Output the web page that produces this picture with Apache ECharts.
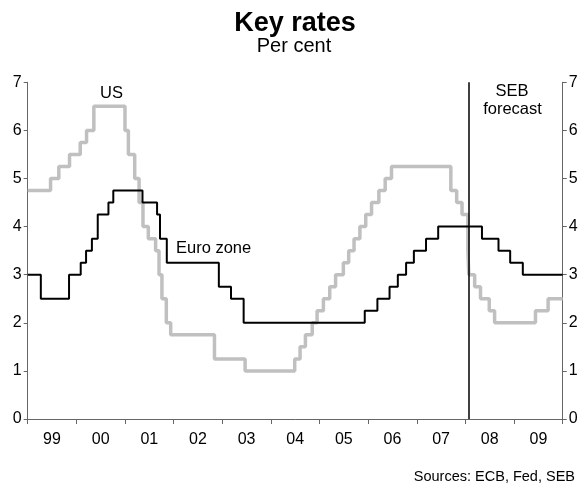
<!DOCTYPE html>
<html><head><meta charset="utf-8">
<script src="https://cdn.jsdelivr.net/npm/echarts@6/dist/echarts.min.js"></script>
<style>html,body{margin:0;padding:0;background:#fff}#c{width:583px;height:484px}</style>
</head><body><div id="c"></div>
<script>
var yearLabels = ["99","00","01","02","03","04","05","06","07","08","09"];
var euroDates = [1999.0,1999.27,1999.85,2000.09,2000.2,2000.32,2000.44,2000.66,2000.76,2001.36,2001.66,2001.72,2001.86,2002.93,2003.18,2003.44,2005.93,2006.19,2006.44,2006.61,2006.78,2006.94,2007.19,2007.44,2008.34,2008.68,2008.92,2009.18,2010.0];
var euroRates = [3.0,2.5,3.0,3.25,3.5,3.75,4.25,4.5,4.75,4.5,4.25,3.75,3.25,2.75,2.5,2.0,2.25,2.5,2.75,3.0,3.25,3.5,3.75,4.0,3.75,3.5,3.25,3.0,3.0];
var usDates = [1999.0,1999.47,1999.64,1999.86,2000.08,2000.21,2000.36,2001.0,2001.07,2001.2,2001.29,2001.37,2001.48,2001.63,2001.7,2001.76,2001.85,2001.94,2002.84,2003.47,2004.49,2004.6,2004.71,2004.85,2004.95,2005.08,2005.21,2005.33,2005.49,2005.6,2005.71,2005.83,2005.95,2006.07,2006.22,2006.35,2006.48,2007.7,2007.82,2007.93,2008.05,2008.07,2008.19,2008.31,2008.49,2008.6,2009.44,2009.7,2010.0];
var usRates = [4.75,5.0,5.25,5.5,5.75,6.0,6.5,6.0,5.5,5.0,4.5,4.0,3.75,3.5,3.0,2.5,2.0,1.75,1.25,1.0,1.25,1.5,1.75,2.0,2.25,2.5,2.75,3.0,3.25,3.5,3.75,4.0,4.25,4.5,4.75,5.0,5.25,4.75,4.5,4.25,3.5,3.0,2.75,2.5,2.25,2.0,2.25,2.5,2.5];
var forecastStart = 2008.07;

function pairs(xs, ys){ return xs.map(function(x,i){ return [x, ys[i]]; }); }
var FONT = "Liberation Sans, Arial, sans-serif";
var chart = echarts.init(document.getElementById('c'), null, {renderer:'canvas'});
var yAxisCommon = {
  type:'value', min:0, max:7, interval:1,
  axisLine:{show:true, lineStyle:{color:'#666', width:1}},
  axisTick:{show:true, inside:false, length:4, lineStyle:{color:'#666'}},
  splitLine:{show:false},
  axisLabel:{color:'#000', fontSize:16, fontFamily:FONT, margin:6}
};
function txt(x, y, s, size, align, bold){
  return {type:'text', x:x, y:y, silent:true,
    style:{text:s, fontSize:size, fontFamily:FONT, fontWeight:bold?'bold':'normal', fill:'#000', align:align, verticalAlign:'middle'}};
}
chart.setOption({
  animation:false,
  backgroundColor:'#fff',
  grid:{left:27.7, right:20.3, top:82.3, bottom:65},
  xAxis:[
    {type:'value', min:1999, max:2010, show:false},
    {type:'category', data:yearLabels, boundaryGap:true, position:'bottom',
     axisLine:{show:true, lineStyle:{color:'#666', width:1}},
     axisTick:{show:true, inside:false, length:5, lineStyle:{color:'#666'}},
     axisLabel:{color:'#000', fontSize:16, fontFamily:FONT, margin:13},
     splitLine:{show:false}}
  ],
  yAxis:[
    Object.assign({position:'left'}, yAxisCommon),
    Object.assign({position:'right'}, yAxisCommon)
  ],
  series:[
    {type:'line', name:'US', xAxisIndex:0, yAxisIndex:0, step:'end', symbol:'none',
     data:pairs(usDates, usRates), lineStyle:{color:'#c0c0c0', width:3.5}, z:2},
    {type:'line', name:'Euro zone', xAxisIndex:0, yAxisIndex:0, step:'end', symbol:'none',
     data:pairs(euroDates, euroRates), lineStyle:{color:'#000', width:2}, z:3,
     markLine:{silent:true, symbol:'none', label:{show:false},
       lineStyle:{color:'#000', width:1.5, type:'solid'},
       data:[{xAxis:forecastStart}]}}
  ],
  graphic:[
    txt(295, 24, 'Key rates', 27, 'center', true),
    txt(294, 46.5, 'Per cent', 20, 'center', false),
    txt(111.5, 93.5, 'US', 16.5, 'center', false),
    txt(176, 248.5, 'Euro zone', 16.5, 'left', false),
    txt(512, 91, 'SEB', 16.5, 'center', false),
    txt(512.5, 109.5, 'forecast', 16.5, 'center', false),
    txt(575, 476.5, 'Sources: ECB, Fed, SEB', 14.5, 'right', false)
  ]
});
</script></body></html>
